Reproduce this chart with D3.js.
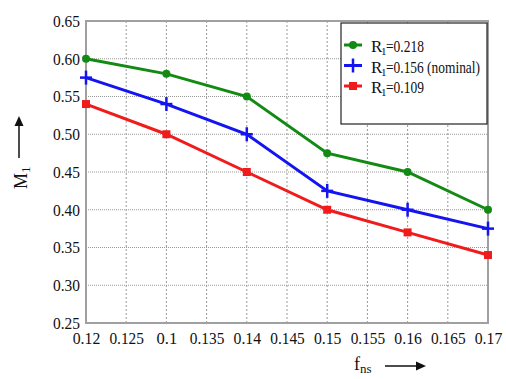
<!DOCTYPE html>
<html>
<head>
<meta charset="utf-8">
<script src="https://cdn.jsdelivr.net/npm/d3@7"></script>
<style>
  body { margin: 0; background: #fff; }
  svg text { font-family: "Liberation Serif", "Times New Roman", "DejaVu Serif", serif !important; }
</style>
</head>
<body>
<script>
// data
var fns = [0.12, 0.13, 0.14, 0.15, 0.16, 0.17];
var r218 = [0.60, 0.58, 0.55, 0.475, 0.45, 0.40];
var r156 = [0.575, 0.54, 0.50, 0.425, 0.40, 0.375];
var r109 = [0.54, 0.50, 0.45, 0.40, 0.37, 0.34];
var xTicks = [0.12, 0.125, 0.13, 0.135, 0.14, 0.145, 0.15, 0.155, 0.16, 0.165, 0.17];
var xTickLabels = ["0.12", "0.125", "0.1", "0.135", "0.14", "0.145", "0.15", "0.155", "0.16", "0.165", "0.17"];
var yTicks = [0.25, 0.30, 0.35, 0.40, 0.45, 0.50, 0.55, 0.60, 0.65];
var seriesNames = ["0.218", "0.156 (nominal)", "0.109"];

var series = [
  { name: seriesNames[0], values: r218, color: "#138a13", marker: "circle" },
  { name: seriesNames[1], values: r156, color: "#1414f0", marker: "plus" },
  { name: seriesNames[2], values: r109, color: "#f01c1c", marker: "square" }
];

var width = 506, height = 379;
var plotL = 86, plotR = 488, plotT = 21, plotB = 323;

var svg = d3.select("body").append("svg")
    .attr("width", width)
    .attr("height", height);

var x = d3.scaleLinear().domain([0.12, 0.17]).range([plotL, plotR]);
var y = d3.scaleLinear().domain([0.25, 0.65]).range([plotB, plotT]);

// grid
svg.append("g").selectAll("line")
    .data(xTicks.slice(1, -1))
    .enter().append("line")
    .attr("x1", function(d) { return x(d); })
    .attr("x2", function(d) { return x(d); })
    .attr("y1", plotT).attr("y2", plotB)
    .attr("stroke", "#999").attr("stroke-width", 1)
    .attr("stroke-dasharray", "2,2");

svg.append("g").selectAll("line")
    .data(yTicks.slice(1, -1))
    .enter().append("line")
    .attr("x1", plotL).attr("x2", plotR)
    .attr("y1", function(d) { return y(d); })
    .attr("y2", function(d) { return y(d); })
    .attr("stroke", "#999").attr("stroke-width", 1)
    .attr("stroke-dasharray", "1,1");

// frame
svg.append("rect")
    .attr("x", plotL).attr("y", plotT)
    .attr("width", plotR - plotL).attr("height", plotB - plotT)
    .attr("fill", "none").attr("stroke", "#a0a0a0").attr("stroke-width", 2);

// axes
var xAxis = d3.axisBottom(x).tickValues(xTicks).tickSize(0).tickPadding(9)
    .tickFormat(function(d, i) { return xTickLabels[i]; });
var gx = svg.append("g").attr("transform", "translate(0," + plotB + ")").call(xAxis);
gx.select(".domain").remove();
gx.attr("font-size", 17);
gx.selectAll("text").attr("fill", "#111")
    .attr("textLength", function(d, i) { return xTickLabels[i].length * 6.9; })
    .attr("lengthAdjust", "spacingAndGlyphs");

var yAxis = d3.axisLeft(y).tickValues(yTicks).tickSize(0).tickPadding(6)
    .tickFormat(d3.format(".2f"));
var gy = svg.append("g").attr("transform", "translate(" + plotL + ",0)").call(yAxis);
gy.select(".domain").remove();
gy.attr("font-size", 17);
gy.selectAll("text").attr("fill", "#111")
    .attr("textLength", 27)
    .attr("lengthAdjust", "spacingAndGlyphs");

// lines
var line = d3.line()
    .x(function(d, i) { return x(fns[i]); })
    .y(function(d) { return y(d); });

function drawMarker(g, type, color, cx, cy) {
  if (type === "circle") {
    g.append("circle").attr("cx", cx).attr("cy", cy).attr("r", 4).attr("fill", color);
  } else if (type === "plus") {
    g.append("line").attr("x1", cx - 6).attr("x2", cx + 6).attr("y1", cy).attr("y2", cy)
        .attr("stroke", color).attr("stroke-width", 2.5);
    g.append("line").attr("x1", cx).attr("x2", cx).attr("y1", cy - 7).attr("y2", cy + 7)
        .attr("stroke", color).attr("stroke-width", 2.5);
  } else {
    g.append("rect").attr("x", cx - 4).attr("y", cy - 4).attr("width", 8).attr("height", 8)
        .attr("fill", color);
  }
}

series.forEach(function(s) {
  svg.append("path")
      .datum(s.values)
      .attr("d", line)
      .attr("fill", "none")
      .attr("stroke", s.color)
      .attr("stroke-width", 3);
  var g = svg.append("g");
  s.values.forEach(function(v, i) {
    drawMarker(g, s.marker, s.color, x(fns[i]), y(v));
  });
});

// legend
var legend = svg.append("g");
legend.append("rect")
    .attr("x", 341).attr("y", 23).attr("width", 146).attr("height", 101)
    .attr("fill", "#fff").attr("stroke", "#222").attr("stroke-width", 1.2);

series.forEach(function(s, i) {
  var ly = 45 + i * 20.5;
  legend.append("line")
      .attr("x1", 344).attr("x2", 362).attr("y1", ly).attr("y2", ly)
      .attr("stroke", s.color).attr("stroke-width", 3);
  drawMarker(legend, s.marker, s.color, 353, ly);
  legend.append("text")
      .attr("x", 371).attr("y", ly + 7)
      .attr("font-size", 17).attr("fill", "#111")
      .text("R");
  legend.append("text")
      .attr("x", 381).attr("y", ly + 10)
      .attr("font-size", 11).attr("fill", "#111")
      .text("1");
  legend.append("text")
      .attr("x", 386).attr("y", ly + 7)
      .attr("font-size", 17).attr("fill", "#111")
      .attr("textLength", s.name.length > 6 ? 94 : 38)
      .attr("lengthAdjust", "spacingAndGlyphs")
      .text("=" + s.name);
});

// axis titles
var xt = svg.append("text").attr("x", 354).attr("y", 370).attr("font-size", 18).attr("fill", "#111");
xt.append("tspan").text("f");
xt.append("tspan").attr("font-size", 13).attr("dy", 3).text("ns");

svg.append("line").attr("x1", 385).attr("x2", 418).attr("y1", 366).attr("y2", 366)
    .attr("stroke", "#111").attr("stroke-width", 1.5);
svg.append("path").attr("d", "M426,366 L416,361.5 L416,370.5 Z").attr("fill", "#111");

var yt = svg.append("text")
    .attr("transform", "translate(27,189) rotate(-90)")
    .attr("font-size", 18).attr("fill", "#111");
yt.append("tspan").text("M");
yt.append("tspan").attr("font-size", 13).attr("dy", 3).text("1");

svg.append("line").attr("x1", 19).attr("x2", 19).attr("y1", 158).attr("y2", 124)
    .attr("stroke", "#111").attr("stroke-width", 1.5);
svg.append("path").attr("d", "M19,116 L14.5,126 L23.5,126 Z").attr("fill", "#111");
</script>
</body>
</html>
